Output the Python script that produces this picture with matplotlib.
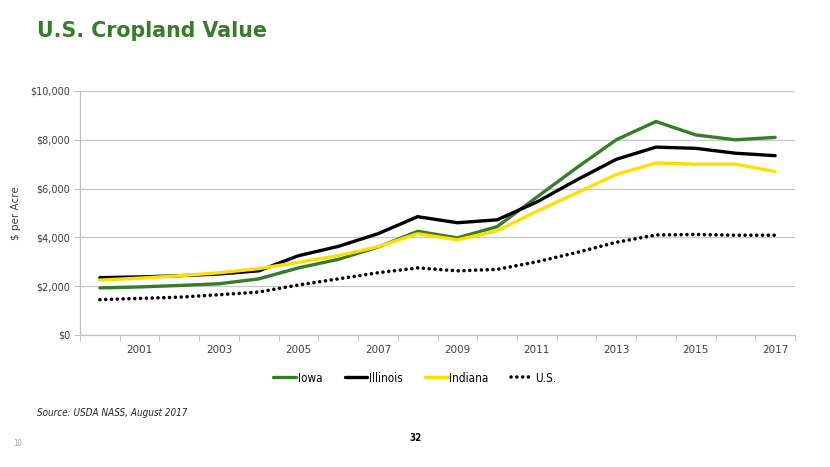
import matplotlib
matplotlib.use("Agg")
import matplotlib.pyplot as plt
from matplotlib import font_manager
from matplotlib.ticker import FuncFormatter, FixedLocator

years = list(range(2000, 2018))
iowa = [1930, 1970, 2030, 2100, 2300, 2750, 3100, 3600, 4250, 3980, 4440, 5650, 6850, 8000, 8750, 8200, 8000, 8100]
illinois = [2350, 2380, 2430, 2500, 2630, 3250, 3630, 4150, 4850, 4600, 4720, 5450, 6350, 7200, 7700, 7650, 7450, 7350]
indiana = [2250, 2330, 2430, 2550, 2720, 2980, 3250, 3620, 4150, 3900, 4270, 5070, 5820, 6580, 7050, 7000, 7000, 6700]
us = [1450, 1500, 1550, 1650, 1760, 2050, 2300, 2550, 2750, 2630, 2690, 3000, 3380, 3800, 4100, 4120, 4090, 4090]

GREEN = "#367c2b"
YELLOW = "#ffde00"

names = {f.name for f in font_manager.fontManager.ttflist}
if "Liberation Sans Narrow" in names:
    narrow = dict(family="Liberation Sans Narrow")
else:
    narrow = dict(family="DejaVu Sans", stretch="condensed")

fig = plt.figure(figsize=(8.3, 4.67), dpi=100)
ax = fig.add_axes([80/830, 1-335/467, 715/830, 244/467])

x = list(range(len(years)))
ax.plot(x, iowa, color=GREEN, lw=2.4, label="Iowa", solid_capstyle="round")
ax.plot(x, illinois, color="black", lw=2.4, label="Illinois", solid_capstyle="round")
ax.plot(x, indiana, color=YELLOW, lw=2.4, label="Indiana", solid_capstyle="round")
ax.plot(x, us, color="black", lw=2.6, linestyle=(0, (0.01, 1.6)), dash_capstyle="round", label="U.S.")

ax.set_xlim(-0.5, len(years) - 0.5)
ax.set_ylim(0, 10000)
ax.set_yticks(range(0, 10001, 2000))
ax.yaxis.set_major_formatter(FuncFormatter(lambda v, p: "${:,.0f}".format(v)))
ax.grid(axis="y", color="#c8c8c8", lw=0.9)
ax.set_axisbelow(True)

label_idx = [i for i, y in enumerate(years) if y % 2 == 1]
ax.xaxis.set_major_locator(FixedLocator(label_idx))
ax.set_xticklabels([str(years[i]) for i in label_idx])
ax.xaxis.set_minor_locator(FixedLocator([i - 0.5 for i in range(len(years) + 1)]))
ax.tick_params(axis="x", which="major", length=0, pad=7, labelsize=7.5, labelcolor="#404040")
ax.tick_params(axis="x", which="minor", length=4, color="#bfbfbf")
ax.tick_params(axis="y", length=4, color="#bfbfbf", labelsize=7, labelcolor="#404040", pad=3)

for s in ["top", "right"]:
    ax.spines[s].set_visible(False)
for s in ["left", "bottom"]:
    ax.spines[s].set_color("#bfbfbf")
    ax.spines[s].set_linewidth(0.9)

ax.set_ylabel("$ per Acre", fontsize=7.5, color="#404040")
ax.yaxis.set_label_coords(-(80 - 21) / 715, 0.5)

legprop = dict(size=8.5, **narrow)
leg = fig.legend(loc="center", bbox_to_anchor=(415/830, 1-378/467), ncol=4, frameon=False,
                 prop=legprop, handlelength=1.9, handletextpad=0.15,
                 columnspacing=1.9)

fig.text(37/830, 1-31/467, "U.S. Cropland Value", color=GREEN, fontsize=14.8, fontweight="bold",
         va="center", ha="left", family="DejaVu Sans")
fig.text(37/830, 1-413/467, "Source: USDA NASS, August 2017", fontsize=7.1, style="italic",
         va="center", ha="left", color="#262626", **narrow)
fig.text(415/830, 1-438/467, "32", fontsize=7, fontweight="bold", ha="center", va="center", **narrow)
fig.text(18/830, 1-444/467, "10", fontsize=5.5, color="#a0a0a0", ha="center", va="center", **narrow)

fig.savefig("out.png", dpi=100)
